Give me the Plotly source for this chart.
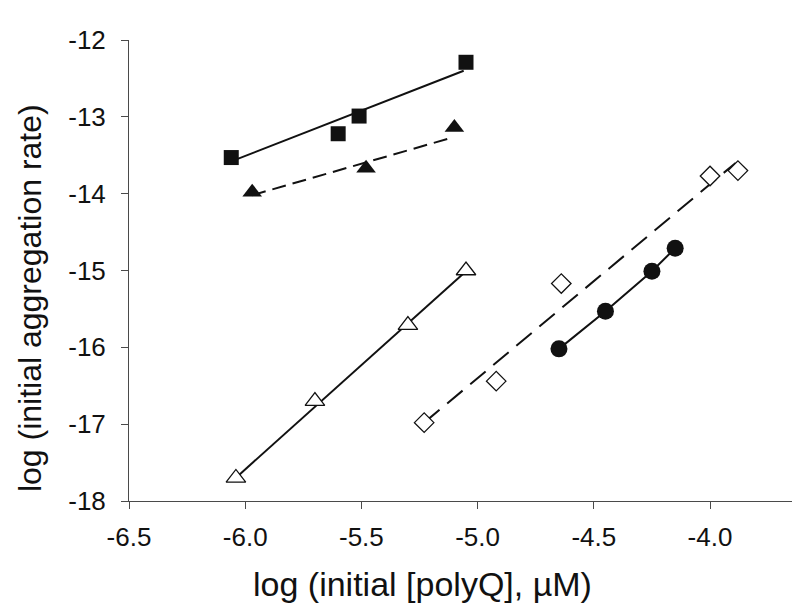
import plotly.graph_objects as go

# --- data ---
sq_x = [-6.06, -5.60, -5.51, -5.05]
sq_y = [-13.53, -13.22, -12.99, -12.29]
sq_fit_x = [-6.06, -5.06]
sq_fit_y = [-13.58, -12.40]

tri_x = [-5.97, -5.48, -5.10]
tri_y = [-13.98, -13.67, -13.14]
tri_fit_x = [-5.97, -5.11]
tri_fit_y = [-14.02, -13.27]

otri_x = [-6.04, -5.70, -5.30, -5.05]
otri_y = [-17.70, -16.70, -15.71, -15.00]
otri_fit_x = [-6.03, -5.05]
otri_fit_y = [-17.67, -15.01]

dia_x = [-5.23, -4.92, -4.64, -4.00, -3.88]
dia_y = [-16.98, -16.44, -15.17, -13.77, -13.70]
dia_fit_x = [-5.23, -3.89]
dia_fit_y = [-16.98, -13.60]

circ_x = [-4.65, -4.45, -4.25, -4.15]
circ_y = [-16.02, -15.53, -15.01, -14.71]

x_ticks = [-6.5, -6.0, -5.5, -5.0, -4.5, -4.0]
x_ticktext = ["-6.5", "-6.0", "-5.5", "-5.0", "-4.5", "-4.0"]
y_ticks = [-18, -17, -16, -15, -14, -13, -12]
y_ticktext = ["-18", "-17", "-16", "-15", "-14", "-13", "-12"]

_INK = "#111111"
_AXIS = "#4a4a4a"
_FONT = "Liberation Sans, Arial, sans-serif"

fig = go.Figure()

# fitted lines first so markers sit on top
for fx, fy, dash in [
    (sq_fit_x, sq_fit_y, "solid"),
    (tri_fit_x, tri_fit_y, "14px,7px"),
    (otri_fit_x, otri_fit_y, "solid"),
    (dia_fit_x, dia_fit_y, "20px,10px"),
    (circ_x, circ_y, "solid"),
]:
    fig.add_trace(go.Scatter(
        x=fx, y=fy, mode="lines",
        line=dict(color=_INK, width=2, dash=dash),
        showlegend=False, hoverinfo="skip",
    ))

fig.add_trace(go.Scatter(
    x=sq_x, y=sq_y, mode="markers",
    marker=dict(symbol="square", size=15, color=_INK),
    showlegend=False,
))
fig.add_trace(go.Scatter(
    x=tri_x, y=tri_y, mode="markers",
    marker=dict(symbol="triangle-up", size=17, color=_INK),
    showlegend=False,
))
fig.add_trace(go.Scatter(
    x=otri_x, y=otri_y, mode="markers",
    marker=dict(symbol="triangle-up", size=17, color="white",
                line=dict(color=_INK, width=1.3)),
    showlegend=False,
))
fig.add_trace(go.Scatter(
    x=dia_x, y=dia_y, mode="markers",
    marker=dict(symbol="diamond", size=15, color="white",
                line=dict(color=_INK, width=1.3)),
    showlegend=False,
))
fig.add_trace(go.Scatter(
    x=circ_x, y=circ_y, mode="markers",
    marker=dict(symbol="circle", size=17, color=_INK),
    showlegend=False,
))

_axis = dict(
    showline=True, linecolor=_AXIS, linewidth=1,
    ticks="outside", ticklen=7, tickcolor=_AXIS, tickwidth=1,
    showgrid=False, zeroline=False,
    tickfont=dict(family=_FONT, size=26, color=_INK),
)

fig.update_layout(
    width=800, height=609,
    paper_bgcolor="white", plot_bgcolor="white",
    margin=dict(l=121, r=5, t=32, b=116),
    font=dict(family=_FONT, color=_INK),
    xaxis=dict(range=[-6.5, -3.6], tickvals=x_ticks, ticktext=x_ticktext,
               ticklabelstandoff=6, **_axis),
    yaxis=dict(range=[-18, -12], tickvals=y_ticks, ticktext=y_ticktext,
               ticklabelstandoff=10, **_axis),
    annotations=[
        dict(text="log (initial [polyQ], µM)", xref="paper", yref="paper",
             x=0.436, y=-0.18, xanchor="center", yanchor="middle",
             showarrow=False, font=dict(family=_FONT, size=34, color=_INK)),
        dict(text="log (initial aggregation rate)", xref="paper", yref="paper",
             x=-0.147, y=0.44, xanchor="center", yanchor="middle", textangle=-90,
             showarrow=False, font=dict(family=_FONT, size=32, color=_INK)),
    ],
)

fig.write_html("out.html")
